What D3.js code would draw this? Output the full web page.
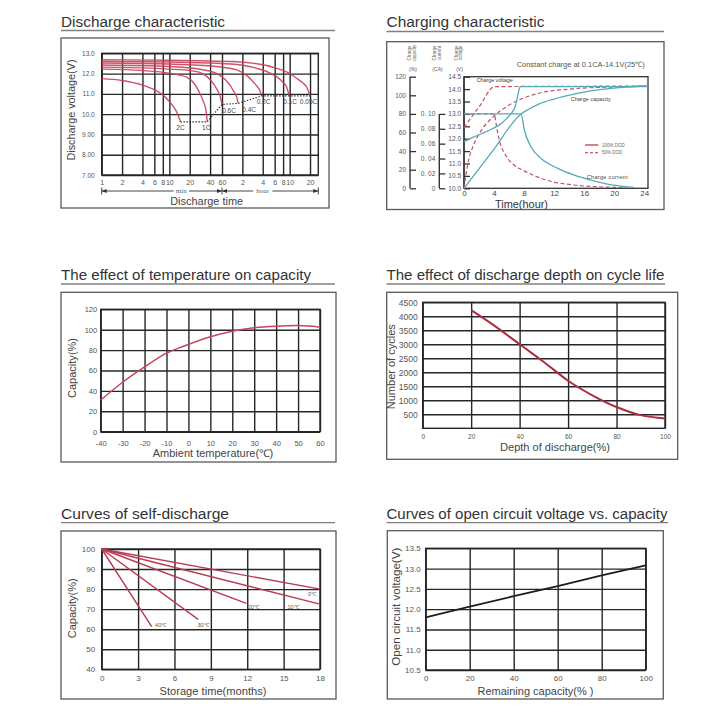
<!DOCTYPE html>
<html><head><meta charset="utf-8">
<script src="https://cdn.jsdelivr.net/npm/d3@7"></script>
<style>body{margin:0;background:#fff}svg{display:block}</style>
</head><body>
<svg id="c" width="720" height="720"></svg>
<script>
// ================= DATA =================
// 1. Discharge characteristic (time in minutes, voltage in V)
const dischargeTimeTicks = [1,2,4,6,8,10,20,40,60,120,240,360,480,600,1200];
const dischargeTimeLabels = ["1","2","4","6","8","10","20","40","60","2","4","6","8","10","20"];
const dischargeVoltTicks = [13,12,11,10,9,8,7];
const dischargeVoltLabels = ["13.0","12.0","11.0","10.0","9.00","8.00","7.00"];
const dischargeRates = ["2C","1C","0.6C","0.4C","0.2C","0.1C","0.05C"];
const discharge2C  = [[1,11.75],[2,11.66],[4,11.43],[6,11.2],[8,10.95],[10,10.62],[12,10.28],[13.5,9.95],[14.6,9.62]];
const discharge1C  = [[1,12.22],[4,12.15],[10,12.02],[18,11.82],[24,11.45],[28.3,11.02],[32,10.6],[34.7,10.2],[36.3,9.62]];
const discharge06C = [[1,12.32],[5,12.27],[10,12.22],[20,12.15],[28.3,12.06],[36,11.85],[44.5,11.52],[51,11.2],[56,10.9],[60,10.48]];
const discharge04C = [[1,12.42],[10,12.35],[30,12.2],[50,12.0],[65,11.75],[78.7,11.43],[90,11.1],[98.6,10.86],[104,10.53]];
const discharge02C = [[1,12.52],[10,12.47],[50,12.35],[98.6,12.18],[140,11.9],[173,11.6],[200,11.35],[218,11.17],[231,10.9]];
const discharge01C = [[1,12.6],[10,12.57],[100,12.45],[195,12.26],[300,12.05],[384,11.85],[470,11.6],[540,11.35],[590,10.9]];
const discharge005C= [[1,12.68],[10,12.66],[100,12.58],[384,12.26],[600,12.0],[760,11.77],[950,11.52],[1065,11.35],[1200,10.9]];
const dischargeEndLine = [[14.6,9.62],[36.3,9.62],[60,10.48],[104,10.53],[231,10.9],[1200,10.9]];

// 2. Charging characteristic (time in hours)
const chargeTimeTicks = [0,4,8,12,16,20,24];
const chargeVoltTicks = [10,10.5,11,11.5,12,12.5,13,13.5,14,14.5];
const chargeVoltLabels = ["10.0","10.5","11.0","11.5","12.0","12.5","13.0","13.5","14.0","14.5"];
const chargeCapTicks = [0,20,40,60,80,100,120];
const chargeCurTicks = [0,0.02,0.04,0.06,0.08,0.10];
const chargeCurLabels = ["0","0. 02","0. 04","0. 06","0. 08","0. 10"];
const chargeVoltage100 = [[0,11.88],[0.5,11.95],[1.24,12.06],[2.5,12.22],[3.9,12.42],[5,12.62],[5.7,12.82],[6.3,13.02],[6.8,13.29],[7.1,13.65],[7.3,13.95],[7.5,14.1],[24.5,14.1]];
const chargeVoltage50  = [[0,12.45],[2,13.28],[4.1,14.1],[24.5,14.12]];
const chargeCapacity100 = [[0,0],[3.8,40],[7.6,80],[8.5,84.5],[10.1,91],[12,96],[14.5,101],[17,105],[19,107],[21,108.5],[24.5,110]];
const chargeCapacity50  = [[0,0],[0.5,26],[1.24,46],[2.13,60],[3.9,77],[5.7,88],[7.9,97],[10.1,102.5],[14.5,107],[20,109],[24.5,110]];
const chargeCurrent100 = [[0,0.1],[7.6,0.1],[8.04,0.078],[8.93,0.0555],[10.27,0.04],[12.5,0.0267],[14.7,0.0177],[16.9,0.011],[19.1,0.0057],[21.8,0.002],[22.6,0.0012]];
const chargeCurrent50  = [[0,0.1],[4,0.1],[4.3,0.085],[4.6,0.069],[5.7,0.042],[6.7,0.031],[7.9,0.024],[11,0.011],[14.6,0.0044],[18,0.002],[21.7,0.001]];

// 3. Temperature vs capacity
const tempTicks = [-40,-30,-20,-10,0,10,20,30,40,50,60];
const tempCapTicks = [0,20,40,60,80,100,120];
const tempCapacity = [[-40,31],[-30,48.5],[-20,63.5],[-10,77],[0,85.5],[10,93],[20,98.5],[30,102],[40,103.5],[50,104],[60,102.5]];

// 4. Depth of discharge vs cycle life
const dodTicks = [0,20,40,60,80,100];
const cycleTicks = [500,1000,1500,2000,2500,3000,3500,4000,4500];
const dodCycles = [[20,4220],[30,3640],[40,3000],[50,2370],[60,1700],[70,1180],[80,760],[90,470],[100,350]];

// 5. Self-discharge (months, capacity %)
const storageTicks = [0,3,6,9,12,15,18];
const selfCapTicks = [40,50,60,70,80,90,100];
const selfTemps = ["0℃","10℃","20℃","30℃","40℃"];
const selfStart = [0,100];
const selfEnds = [[18,80],[18,72.5],[11.93,72.9],[7.95,64.9],[4.12,61.25]];

// 6. Open circuit voltage vs remaining capacity
const remainTicks = [0,20,40,60,80,100];
const ocvTicks = [10.5,11,11.5,12,12.5,13,13.5];
const ocvLabels = ["10.5","11.0","11.5","12.0","12.5","13.0","13.5"];
const ocvLine = [[0,11.8],[20,12.06],[40,12.32],[60,12.57],[80,12.83],[100,13.08]];

// ================= DRAWING =================
const FONT = '"Liberation Sans", Arial, Helvetica, sans-serif';
const GRID = "#262626";
const RED = "#c9405a";
const TEAL = "#55aab9";
const svg = d3.select("#c").attr("font-family", FONT);
svg.append("rect").attr("width",720).attr("height",720).attr("fill","#fff");

function title(x, y, text, len, ulY, ulX2) {
  svg.append("text").attr("x",x).attr("y",y).attr("font-size",14).attr("fill","#333")
    .attr("textLength",len).attr("lengthAdjust","spacingAndGlyphs").text(text);
  svg.append("line").attr("x1",x).attr("x2",ulX2).attr("y1",ulY).attr("y2",ulY)
    .attr("stroke","#808080").attr("stroke-width",1.3);
}
function frame(x1,y1,x2,y2){
  svg.append("rect").attr("x",x1).attr("y",y1).attr("width",x2-x1).attr("height",y2-y1)
    .attr("fill","none").attr("stroke","#5a5a5a").attr("stroke-width",1.3);
}
function gridAxes(g, x, y, o) {
  const [xl, xr] = x.range(), [yb, yt] = y.range();
  const bx = g.append("g").attr("transform", `translate(0,${yb})`)
    .call(d3.axisBottom(x).tickValues(o.xTicks).tickFormat((d,i)=>o.xLabels[i])
      .tickSizeInner(-(yb-yt)).tickSizeOuter(0).tickPadding(o.xPad));
  const by = g.append("g").attr("transform", `translate(${xl},0)`)
    .call(d3.axisLeft(y).tickValues(o.yTicks).tickFormat((d,i)=>o.yLabels[i])
      .tickSizeInner(-(xr-xl)).tickSizeOuter(0).tickPadding(o.yPad));
  for (const a of [bx, by]) {
    a.attr("font-family", FONT);
    a.select(".domain").remove();
    a.selectAll(".tick line").attr("stroke", GRID).attr("stroke-width", 1.4);
    a.selectAll(".tick text").attr("font-size", o.fs).attr("fill", "#555");
  }
  bx.selectAll(".tick text").attr("font-size", o.xfs || o.fs);
  g.append("rect").attr("x", xl).attr("y", yt).attr("width", xr-xl).attr("height", yb-yt)
    .attr("fill","none").attr("stroke",GRID).attr("stroke-width",1.4);
}
function label(g, x, y, txt, fs, len, rotate) {
  const t = g.append("text").attr("font-size",fs).attr("fill","#444").attr("text-anchor","middle").text(txt);
  if (rotate) t.attr("transform",`translate(${x},${y}) rotate(-90)`);
  else t.attr("x",x).attr("y",y);
  if (len) t.attr("textLength",len).attr("lengthAdjust","spacingAndGlyphs");
  return t;
}

// ---------- Panel 1: Discharge characteristic ----------
{
  title(61, 27, "Discharge characteristic", 164, 30.5, 335);
  frame(61, 38, 329, 208);
  const g = svg.append("g");
  const x = d3.scaleLog().domain([1, 1590]).range([101.7, 318.3]);
  const y = d3.scaleLinear().domain([7, 13]).range([175, 53.3]);
  gridAxes(g, x, y, {xTicks: dischargeTimeTicks, xLabels: dischargeTimeLabels, yTicks: dischargeVoltTicks,
    yLabels: dischargeVoltLabels, fs: 6.5, xfs: 7, xPad: 5.5, yPad: 7});
  const line = d3.line().x(d=>x(d[0])).y(d=>y(d[1])).curve(d3.curveMonotoneX);
  const curves = [discharge2C, discharge1C, discharge06C, discharge04C, discharge02C, discharge01C, discharge005C];
  g.selectAll("path.dc").data(curves).join("path").attr("class","dc").attr("d", line)
    .attr("fill","none").attr("stroke", RED).attr("stroke-width",1.4).attr("opacity",0.9);
  g.append("path").attr("d", d3.line().x(d=>x(d[0])).y(d=>y(d[1]))(dischargeEndLine))
    .attr("fill","none").attr("stroke","#222").attr("stroke-width",1.1).attr("stroke-dasharray","1.4,1.6");
  const labelDx = [0, -1, 7, 11, 2, 1, -1.5];
  curves.forEach((c, i) => {
    const e = c[c.length-1];
    g.append("text").attr("x", x(e[0]) + labelDx[i]).attr("y", y(e[1]) + 8.5).attr("text-anchor","middle")
      .attr("font-size",6.5).attr("fill","#444").text(dischargeRates[i]);
  });
  // min / hour span
  const ay = 191, xa = x(1), xm = x(60), xb = x.range()[1];
  const sp = g.append("g").attr("stroke","#333").attr("stroke-width",0.9);
  sp.append("line").attr("x1",xa).attr("x2",xb).attr("y1",ay).attr("y2",ay);
  [xa, xm, xb].forEach(v => sp.append("line").attr("x1",v).attr("x2",v).attr("y1",ay-3.5).attr("y2",ay+3.5));
  const arrows = [[xa,1],[xm,-1],[xm,1],[xb,-1]];
  arrows.forEach(([v,dir]) => g.append("path").attr("d",`M${v},${ay}l${5*dir},-2v4z`).attr("fill","#333"));
  [[x(15),"min"],[x(240),"hour"]].forEach(([v,t]) => {
    const tw = t.length * 3.8 + 4;
    g.append("rect").attr("x", v - tw/2).attr("y", ay-3.5).attr("width", tw).attr("height", 7).attr("fill","#fff");
    g.append("text").attr("x", v).attr("y", ay+2).attr("text-anchor","middle").attr("font-size",7)
      .attr("font-family",'"Liberation Serif", serif').attr("fill","#666").text(t);
  });
  label(g, 206.7, 205, "Discharge time", 10.5, 73);
  label(g, 74.5, 110, "Discharge voltage(V)", 10.5, 101, true);
}

// ---------- Panel 2: Charging characteristic ----------
{
  title(386.5, 27, "Charging characteristic", 158, 31.5, 664);
  frame(386.7, 41.7, 664, 209.5);
  const g = svg.append("g");
  const x = d3.scaleLinear().domain([0, 24.5]).range([464, 648]);
  const v = d3.scaleLinear().domain([10, 14.5]).range([188.3, 76.7]);
  const cap = d3.scaleLinear().domain([0, 120]).range([188.3, 76.7]);
  const cur = d3.scaleLinear().domain([0, 0.15]).range([188.3, 76.7]);
  // plot box
  g.append("rect").attr("x",464).attr("y",v(14.5)).attr("width",648-464).attr("height",v(10)-v(14.5))
    .attr("fill","none").attr("stroke","#333").attr("stroke-width",1.3);
  function sideAxis(scale, ticks, labels, ax, top, pad) {
    const a = g.append("g").attr("transform",`translate(${ax},0)`)
      .call(d3.axisLeft(scale).tickValues(ticks).tickFormat((d,i)=>labels[i]).tickSizeInner(-6).tickSizeOuter(0).tickPadding(pad));
    a.attr("font-family",FONT);
    a.select(".domain").remove();
    a.selectAll(".tick line").attr("stroke","#333").attr("stroke-width",1.3);
    a.selectAll(".tick text").attr("font-size",6.5).attr("fill","#555");
    g.append("line").attr("x1",ax).attr("x2",ax).attr("y1",scale(ticks[0])).attr("y2",scale(top))
      .attr("stroke","#333").attr("stroke-width",1.4);
  }
  sideAxis(cap, chargeCapTicks, chargeCapTicks.map(String), 410, 120, 4);
  sideAxis(cur, chargeCurTicks, chargeCurLabels, 439.3, 0.10, 4);
  sideAxis(v, chargeVoltTicks, chargeVoltLabels, 464, 14.5, 3);
  // x axis labels
  const xa = g.append("g").attr("transform","translate(0,188.3)")
    .call(d3.axisBottom(x).tickValues(chargeTimeTicks).tickSize(0).tickPadding(2.5));
  xa.attr("font-family",FONT); xa.select(".domain").remove();
  xa.selectAll(".tick text").attr("font-size",8).attr("fill","#444");
  label(g, 521.5, 208.3, "Time(hour)", 11, 53).attr("fill","#333");
  // headers
  const hdr = [[411, 415.5, 413, "Charge", "capacity", "(%)"], [436, 440.5, 437.5, "Charge", "current", "(CA)"], [457.5, 462, 459.5, "Charge", "voltage", "(V)"]];
  hdr.forEach(h => {
    label(g, h[0], 53, h[3], 4.5, null, true).attr("fill","#666");
    label(g, h[1], 53, h[4], 4.5, null, true).attr("fill","#666");
    label(g, h[2], 70.5, h[5], 5, null).attr("fill","#555");
  });
  g.append("text").attr("x",516.7).attr("y",66.5).attr("font-size",7.5).attr("fill","#555")
    .attr("textLength",128).attr("lengthAdjust","spacingAndGlyphs").text("Constant charge at 0.1CA-14.1V(25℃)");
  // curves
  const lv = d3.line().x(d=>x(d[0])).y(d=>v(d[1])).curve(d3.curveMonotoneX);
  const lc = d3.line().x(d=>x(d[0])).y(d=>cap(d[1])).curve(d3.curveMonotoneX);
  const li = d3.line().x(d=>x(d[0])).y(d=>cur(d[1])).curve(d3.curveMonotoneX);
  const dashed = [[lv, chargeVoltage50], [lc, chargeCapacity50], [li, chargeCurrent50]];
  const solid = [[lv, chargeVoltage100], [lc, chargeCapacity100], [li, chargeCurrent100]];
  dashed.forEach(([l, d]) => g.append("path").attr("d", l(d)).attr("fill","none").attr("stroke","#c25069")
    .attr("stroke-width",1.2).attr("stroke-dasharray","4,2.5"));
  solid.forEach(([l, d]) => g.append("path").attr("d", l(d)).attr("fill","none").attr("stroke",TEAL).attr("stroke-width",1.3));
  // in-plot labels
  g.append("text").attr("x",476.7).attr("y",82).attr("font-size",5.5).attr("fill","#444").attr("textLength",36).text("Charge voltage");
  g.append("text").attr("x",570.7).attr("y",101).attr("font-size",5.5).attr("fill","#444").attr("textLength",40).text("Charge capacity");
  g.append("text").attr("x",586.7).attr("y",178.7).attr("font-size",5.5).attr("fill","#444").attr("textLength",41).text("Charge current");
  // legend
  g.append("line").attr("x1",585).attr("x2",598.3).attr("y1",145).attr("y2",145).attr("stroke","#b03048").attr("stroke-width",1.2);
  g.append("line").attr("x1",585).attr("x2",598.3).attr("y1",152.7).attr("y2",152.7).attr("stroke","#b03048").attr("stroke-width",1.1).attr("stroke-dasharray","3,2");
  g.append("text").attr("x",602).attr("y",146.6).attr("font-size",4.5).attr("fill","#666").text("100% DOD");
  g.append("text").attr("x",602).attr("y",154.3).attr("font-size",4.5).attr("fill","#666").text("50% DOD");
}

// ---------- Panel 3: Temperature vs capacity ----------
{
  title(61, 279.5, "The effect of temperature on capacity", 250, 284, 335);
  frame(61, 292.3, 336, 462);
  const g = svg.append("g");
  const x = d3.scaleLinear().domain([-40, 60]).range([100.7, 320]);
  const y = d3.scaleLinear().domain([0, 120]).range([431.7, 309.3]);
  gridAxes(g, x, y, {xTicks: tempTicks, xLabels: tempTicks.map(String), yTicks: tempCapTicks,
    yLabels: tempCapTicks.map(String), fs: 7.5, xPad: 8.5, yPad: 3.5});
  g.append("path").attr("d", d3.line().x(d=>x(d[0])).y(d=>y(d[1])).curve(d3.curveMonotoneX)(tempCapacity))
    .attr("fill","none").attr("stroke","#c4475e").attr("stroke-width",1.5);
  label(g, 213, 457, "Ambient temperature(℃)", 10.5, 120.5);
  label(g, 76, 368, "Capacity(%)", 10.5, 60, true);
}

// ---------- Panel 4: DOD vs cycle life ----------
{
  title(386.5, 279.5, "The effect of discharge depth on cycle life", 278, 284, 665);
  frame(386.7, 292.3, 677.7, 459.3);
  const g = svg.append("g");
  const x = d3.scaleLinear().domain([0, 100]).range([422.7, 665]);
  const y = d3.scaleLinear().domain([0, 4500]).range([428.3, 302.3]);
  gridAxes(g, x, y, {xTicks: dodTicks, xLabels: dodTicks.map(String), yTicks: cycleTicks,
    yLabels: cycleTicks.map(String), fs: 8.5, xfs: 6.5, xPad: 6.5, yPad: 5});
  g.append("path").attr("d", d3.line().x(d=>x(d[0])).y(d=>y(d[1])).curve(d3.curveMonotoneX)(dodCycles))
    .attr("fill","none").attr("stroke","#ad2c40").attr("stroke-width",2);
  label(g, 555, 451, "Depth of discharge(%)", 10.5, 110);
  label(g, 394.5, 366.7, "Number of cycles", 10.5, 85, true);
}

// ---------- Panel 5: Self-discharge ----------
{
  title(61, 518.5, "Curves of self-discharge", 168, 522.7, 335);
  frame(61, 531, 336, 699);
  const g = svg.append("g");
  const x = d3.scaleLinear().domain([0, 18]).range([101.7, 320]);
  const y = d3.scaleLinear().domain([40, 100]).range([669.3, 549]);
  gridAxes(g, x, y, {xTicks: storageTicks, xLabels: storageTicks.map(String), yTicks: selfCapTicks,
    yLabels: selfCapTicks.map(String), fs: 8, xPad: 6.3, yPad: 6.5});
  const lines = selfEnds.map(e => [selfStart, e]);
  g.selectAll("line.sd").data(lines).join("line").attr("class","sd")
    .attr("x1",d=>x(d[0][0])).attr("y1",d=>y(d[0][1])).attr("x2",d=>x(d[1][0])).attr("y2",d=>y(d[1][1]))
    .attr("stroke","#bb3a52").attr("stroke-width",1.4);
  const lblOff = [[-8,6.5],[-27,4.8],[7,5.8],[5,7.8],[9,0.8]];
  selfEnds.forEach((e,i) => g.append("text").attr("x", x(e[0]) + lblOff[i][0]).attr("y", y(e[1]) + lblOff[i][1])
    .attr("text-anchor","middle").attr("font-size",5.5).attr("fill","#555").text(selfTemps[i]));
  label(g, 213, 694.5, "Storage time(months)", 10.5, 107);
  label(g, 75.5, 608.3, "Capacity(%)", 10.5, 60, true);
}

// ---------- Panel 6: OCV vs capacity ----------
{
  title(386.5, 518.5, "Curves of open circuit voltage vs. capacity", 281, 522.7, 668);
  frame(387.3, 530.7, 663.3, 699);
  const g = svg.append("g");
  const x = d3.scaleLinear().domain([0, 100]).range([425.7, 645.7]);
  const y = d3.scaleLinear().domain([10.5, 13.5]).range([670, 548.3]);
  gridAxes(g, x, y, {xTicks: remainTicks, xLabels: remainTicks.map(String), yTicks: ocvTicks,
    yLabels: ocvLabels, fs: 8, xPad: 5.6, yPad: 5});
  g.append("path").attr("d", d3.line().x(d=>x(d[0])).y(d=>y(d[1]))(ocvLine))
    .attr("fill","none").attr("stroke","#1e1e1e").attr("stroke-width",1.8);
  label(g, 535.5, 694.5, "Remaining capacity(% )", 10.5, 116);
  label(g, 399.5, 606.7, "Open circuit voltage(V)", 10.5, 118, true);
}
</script>
</body></html>
